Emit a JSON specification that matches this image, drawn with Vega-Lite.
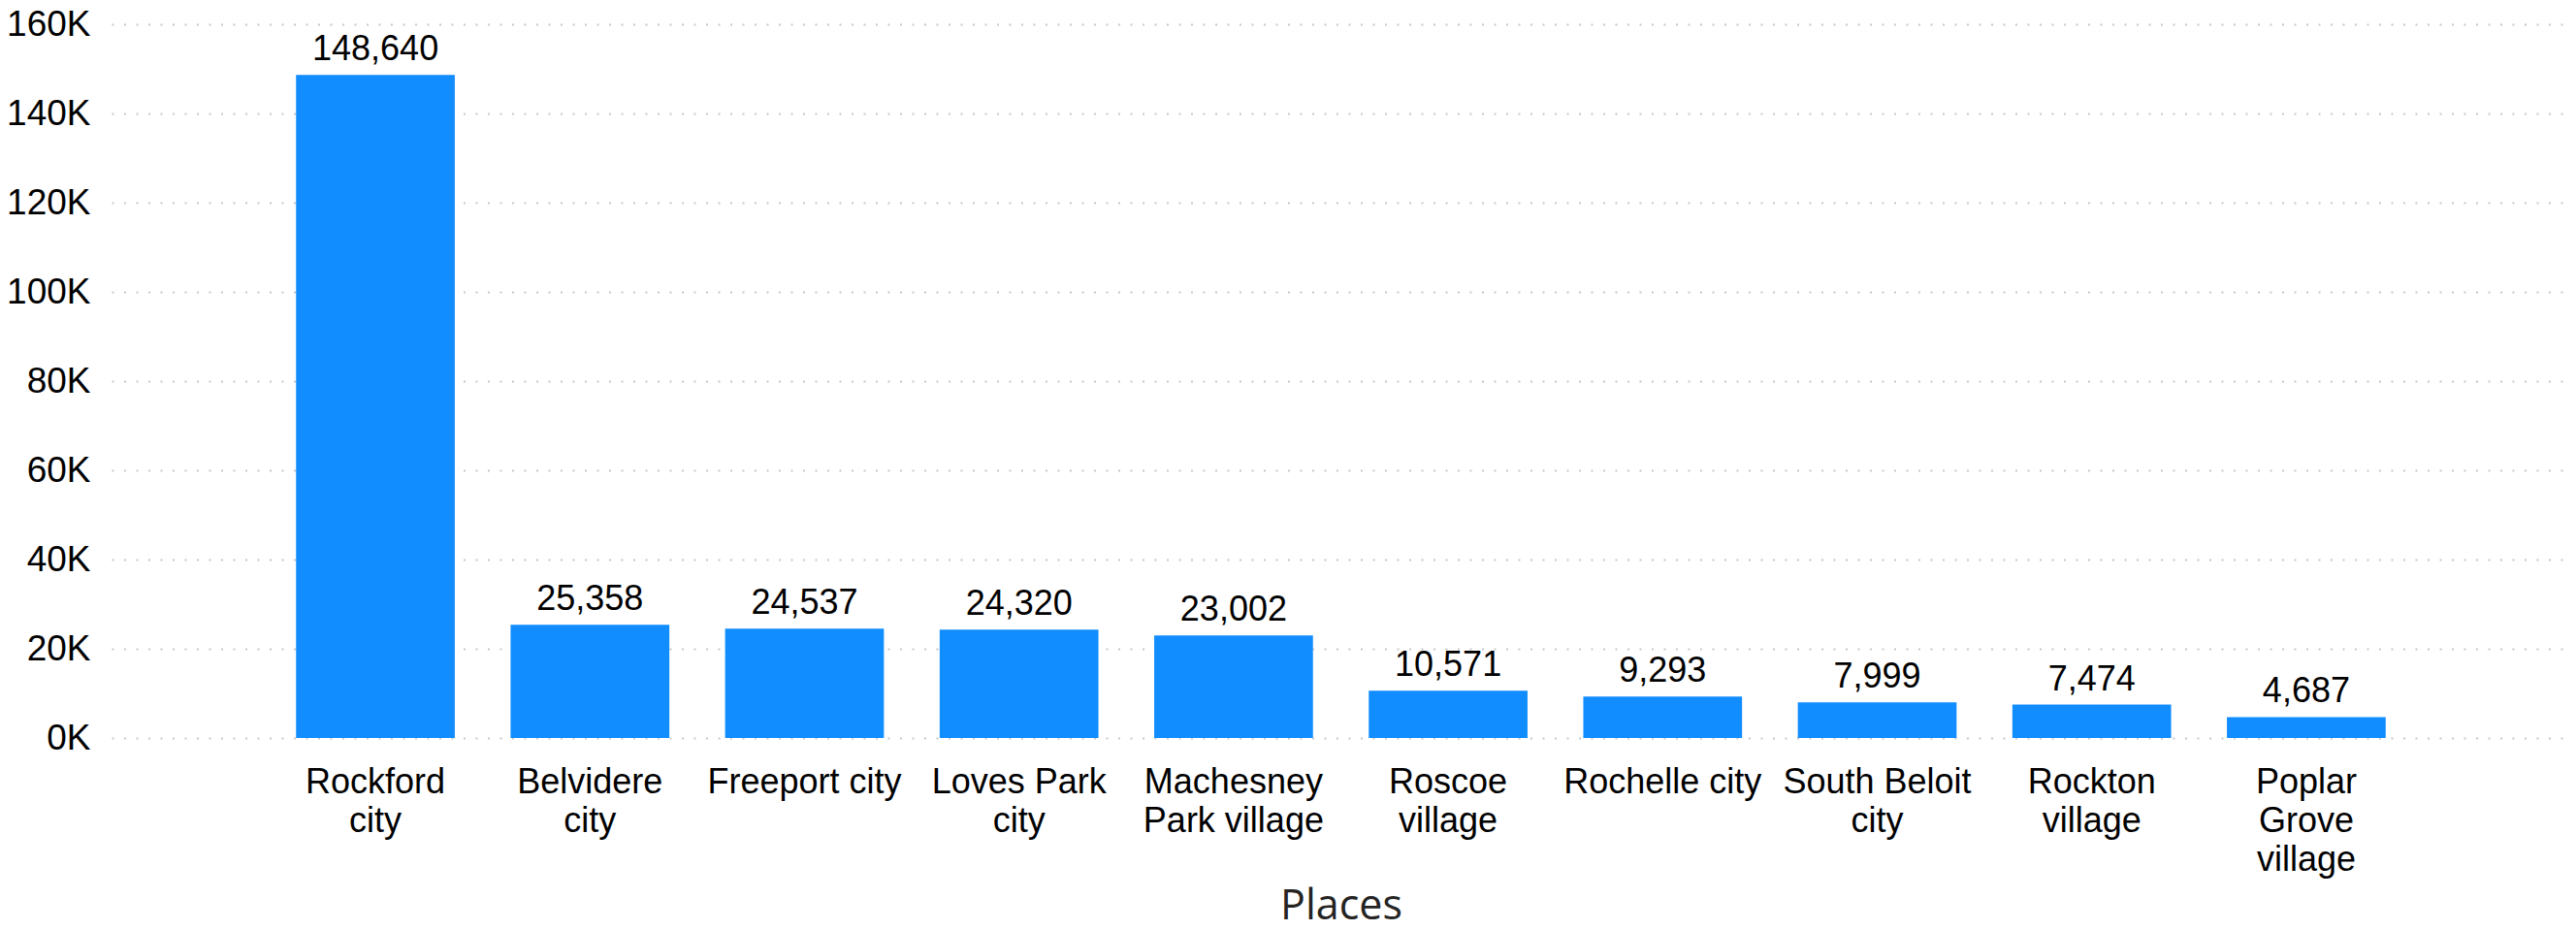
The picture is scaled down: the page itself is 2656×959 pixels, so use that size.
{
  "$schema": "https://vega.github.io/schema/vega-lite/v6.json",
  "autosize": {"type": "none"},
  "padding": {"left": 115, "top": 25, "right": 6, "bottom": 198},
  "width": 2535,
  "height": 736,
  "background": "white",
  "config": {
    "view": {"stroke": null},
    "font": "Liberation Sans"
  },
  "data": {
    "values": [
      {"place": "Rockford city", "population": 148640},
      {"place": "Belvidere city", "population": 25358},
      {"place": "Freeport city", "population": 24537},
      {"place": "Loves Park city", "population": 24320},
      {"place": "Machesney Park village", "population": 23002},
      {"place": "Roscoe village", "population": 10571},
      {"place": "Rochelle city", "population": 9293},
      {"place": "South Beloit city", "population": 7999},
      {"place": "Rockton village", "population": 7474},
      {"place": "Poplar Grove village", "population": 4687}
    ]
  },
  "encoding": {
    "x": {
      "field": "place",
      "type": "nominal",
      "sort": null,
      "scale": {"paddingInner": 0.26, "paddingOuter": 0.86},
      "axis": {
        "title": "Places",
        "titleFont": "Open Sans",
        "titleFontSize": 43,
        "titleFontWeight": 500,
        "titleColor": "#252423",
        "titleBaseline": "alphabetic",
        "titleY": 186,
        "labelAngle": 0,
        "labelFont": "Liberation Sans",
        "labelFontSize": 36,
        "labelColor": "#000000",
        "labelLineHeight": 40,
        "labelPadding": 56,
        "labelBaseline": "alphabetic",
        "labelLimit": 400,
        "ticks": false,
        "domain": false,
        "grid": false,
        "labelExpr": "datum.value == 'Rockford city' ? ['Rockford','city'] : datum.value == 'Belvidere city' ? ['Belvidere','city'] : datum.value == 'Loves Park city' ? ['Loves Park','city'] : datum.value == 'Machesney Park village' ? ['Machesney','Park village'] : datum.value == 'Roscoe village' ? ['Roscoe','village'] : datum.value == 'South Beloit city' ? ['South Beloit','city'] : datum.value == 'Rockton village' ? ['Rockton','village'] : datum.value == 'Poplar Grove village' ? ['Poplar','Grove','village'] : datum.value"
      }
    },
    "y": {
      "field": "population",
      "type": "quantitative",
      "scale": {"domain": [0, 160000], "nice": false},
      "axis": {
        "title": null,
        "values": [0, 20000, 40000, 60000, 80000, 100000, 120000, 140000, 160000],
        "labelExpr": "(datum.value / 1000) + 'K'",
        "labelFont": "Liberation Sans",
        "labelFontSize": 37,
        "labelColor": "#000000",
        "labelPadding": 22,
        "ticks": false,
        "domain": false,
        "grid": true,
        "gridColor": "#C8C8C8",
        "gridWidth": 2,
        "gridDash": [2, 10.5]
      }
    }
  },
  "layer": [
    {"mark": {"type": "bar", "color": "#118DFF"}},
    {
      "mark": {"type": "text", "baseline": "alphabetic", "align": "center", "dy": -15, "fontSize": 36, "font": "Liberation Sans", "color": "#000000"},
      "encoding": {"text": {"field": "population", "type": "quantitative", "format": ","}}
    }
  ]
}
